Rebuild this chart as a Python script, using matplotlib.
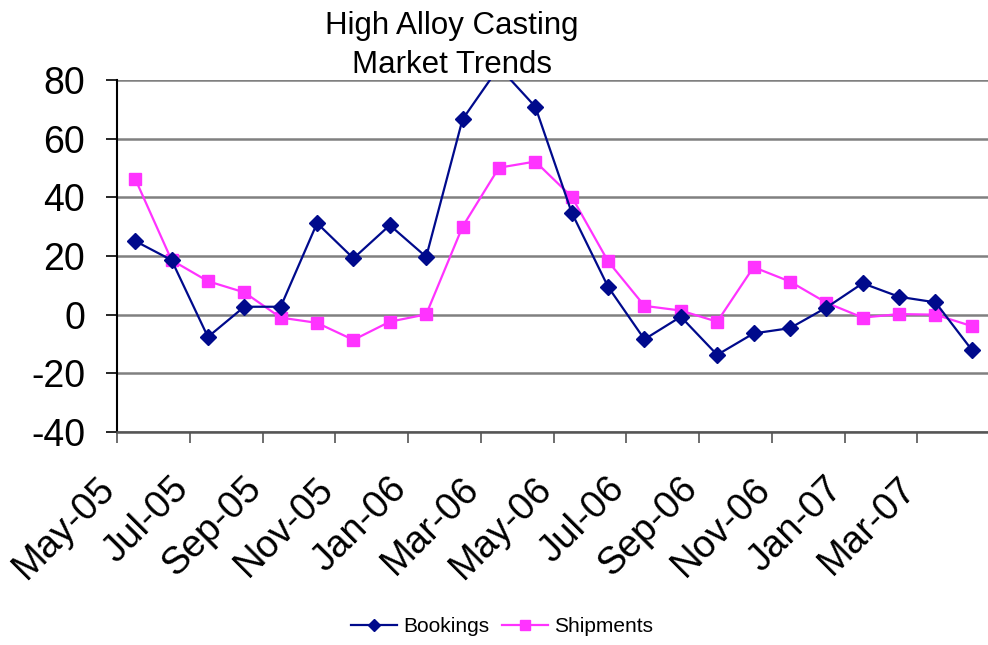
import matplotlib.pyplot as plt

plt.rcParams['font.family'] = ['Liberation Sans', 'DejaVu Sans']

months = ['May-05', 'Jun-05', 'Jul-05', 'Aug-05', 'Sep-05', 'Oct-05',
          'Nov-05', 'Dec-05', 'Jan-06', 'Feb-06', 'Mar-06', 'Apr-06',
          'May-06', 'Jun-06', 'Jul-06', 'Aug-06', 'Sep-06', 'Oct-06',
          'Nov-06', 'Dec-06', 'Jan-07', 'Feb-07', 'Mar-07', 'Apr-07']

bookings = [25.1, 18.6, -7.6, 2.7, 2.7, 31.2, 19.2, 30.5, 19.7, 66.6, 84.4, 70.9,
            34.8, 9.5, -8.4, -0.7, -13.7, -6.4, -4.6, 2.4, 10.7, 6.1, 4.2, -12.0]
shipments = [46.3, 18.6, 11.4, 7.6, -1.0, -2.8, -8.6, -2.4, 0.1, 30.0, 50.1, 52.2,
             40.2, 18.2, 3.0, 1.4, -2.4, 16.2, 11.3, 4.1, -1.0, 0.2, 0.0, -3.9]

yticks = [-40, -20, 0, 20, 40, 60, 80]

W, H = 988, 645
fig = plt.figure(figsize=(W / 100, H / 100), dpi=100)
# axes box in pixel terms: x 117..990, y 80..432 from top
ax = fig.add_axes([117 / W, 1 - 432 / H, (990 - 117) / W, (432 - 80) / H])

x = list(range(len(months)))
ax.plot(x, bookings, color='#000a8c', lw=1.6, marker='D', ms=8,
        mec='#000a8c', mfc='#000a8c', label='Bookings', zorder=4)
ax.plot(x, shipments, color='#ff33ff', lw=1.6, marker='s', ms=9,
        mec='#ff33ff', mfc='#ff33ff', label='Shipments', zorder=3)

ax.set_xlim(-0.5, len(months) - 0.5)
ax.set_ylim(-40, 80)
ax.set_yticks(yticks)
ax.set_yticklabels([str(v) for v in yticks], fontsize=27)
ax.yaxis.grid(True, color='#808080', lw=1.8)
ax.set_axisbelow(True)

# one tick every two months, on the category boundaries
tick_pos = [i - 0.5 for i in range(0, len(months), 2)]
ax.set_xticks(tick_pos)
ax.set_xticklabels(months[::2], fontsize=27.5, rotation=45, ha='right',
                   va='baseline', rotation_mode='anchor')

for s in ['top', 'right']:
    ax.spines[s].set_visible(False)
ax.spines['left'].set_color('black')
ax.spines['left'].set_linewidth(1.5)
ax.spines['bottom'].set_color('#555555')
ax.spines['bottom'].set_linewidth(1.8)
ax.tick_params(axis='y', length=8, width=1.2, pad=15)
ax.tick_params(axis='x', length=8, width=1.2, pad=34, colors='#555555',
               labelcolor='black')

fig.text(452 / W, 1 - 73 / H, 'High Alloy Casting\nMarket Trends', ha='center',
         va='baseline', fontsize=22.5, linespacing=1.4, zorder=10,
         bbox=dict(facecolor='white', edgecolor='none', pad=0))

fig.legend(loc='center', bbox_to_anchor=(502 / W, 1 - 627 / H), ncol=2,
           frameon=False, fontsize=15, handlelength=2.2, handletextpad=0.3,
           columnspacing=0.6, markerscale=0.75)

fig.savefig('out.png', dpi=100)
